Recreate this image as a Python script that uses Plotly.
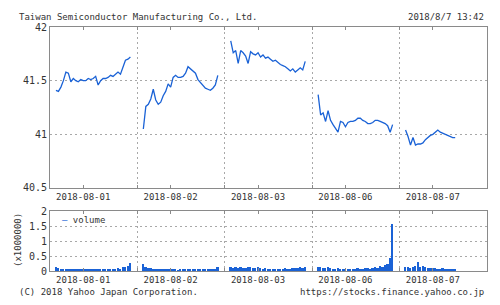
import numpy as np
import plotly.graph_objects as go

# ---------------- data ----------------
dates = ["2018-08-01", "2018-08-02", "2018-08-03", "2018-08-06", "2018-08-07"]

price_d1 = [41.41, 41.40, 41.44, 41.50, 41.58, 41.57, 41.49, 41.52, 41.50, 41.49, 41.51,
            41.50, 41.50, 41.52, 41.51, 41.52, 41.54, 41.46, 41.50, 41.52, 41.52, 41.53,
            41.55, 41.54, 41.56, 41.58, 41.56, 41.62, 41.69, 41.70, 41.72]
price_d2 = [41.05, 41.26, 41.28, 41.33, 41.42, 41.32, 41.28, 41.30, 41.36, 41.40, 41.47,
            41.44, 41.53, 41.55, 41.53, 41.53, 41.54, 41.57, 41.63, 41.61, 41.59, 41.57,
            41.51, 41.48, 41.45, 41.43, 41.42, 41.41, 41.43, 41.46, 41.55]
price_d3 = [41.87, 41.76, 41.78, 41.66, 41.78, 41.76, 41.73, 41.66, 41.77, 41.75, 41.74,
            41.76, 41.72, 41.74, 41.71, 41.72, 41.70, 41.68, 41.69, 41.67, 41.65, 41.64,
            41.63, 41.61, 41.59, 41.61, 41.58, 41.60, 41.62, 41.60, 41.68]
price_d4 = [41.37, 41.18, 41.20, 41.12, 41.22, 41.13, 41.09, 41.05, 41.02, 41.12, 41.11,
            41.07, 41.11, 41.12, 41.12, 41.13, 41.15, 41.15, 41.13, 41.12, 41.10, 41.10,
            41.11, 41.13, 41.13, 41.12, 41.11, 41.10, 41.08, 41.02, 41.09]
price_d5 = [41.04, 40.98, 40.90, 40.97, 40.90, 40.91, 40.91, 40.92, 40.95, 40.97, 40.99,
            41.00, 41.02, 41.04, 41.02, 41.01, 41.00, 40.99, 40.98, 40.97, 40.97]

vol_d1 = [0.12, 0.09, 0.08, 0.07, 0.08, 0.06, 0.07, 0.06, 0.05, 0.06, 0.05, 0.05, 0.06, 0.04,
          0.05, 0.05, 0.06, 0.04, 0.05, 0.06, 0.07, 0.05, 0.06, 0.08, 0.07, 0.09, 0.08, 0.12,
          0.15, 0.18, 0.26]
vol_d2 = [0.22, 0.12, 0.10, 0.09, 0.08, 0.07, 0.06, 0.06, 0.05, 0.04, 0.05, 0.04, 0.05, 0.04,
          0.03, 0.04, 0.05, 0.04, 0.06, 0.05, 0.04, 0.05, 0.06, 0.05, 0.04, 0.07, 0.05, 0.08,
          0.06, 0.05, 0.12]
vol_d3 = [0.15, 0.10, 0.12, 0.09, 0.14, 0.11, 0.10, 0.13, 0.12, 0.09, 0.11, 0.13, 0.10, 0.08,
          0.09, 0.07, 0.08, 0.06, 0.07, 0.08, 0.06, 0.07, 0.09, 0.07, 0.08, 0.10, 0.09, 0.11,
          0.12, 0.10, 0.14]
vol_d4 = [0.14, 0.12, 0.11, 0.10, 0.12, 0.09, 0.08, 0.07, 0.09, 0.08, 0.07, 0.06, 0.07, 0.08,
          0.06, 0.07, 0.09, 0.08, 0.07, 0.10, 0.09, 0.08, 0.11, 0.12, 0.10, 0.18, 0.12, 0.20,
          0.25, 0.43, 1.58]
vol_d5 = [0.15, 0.12, 0.10, 0.13, 0.18, 0.31, 0.14, 0.16, 0.12, 0.10, 0.11, 0.09, 0.10, 0.08,
          0.07, 0.09, 0.06, 0.07, 0.05, 0.06, 0.04]

prices = [price_d1, price_d2, price_d3, price_d4, price_d5]
volumes = [vol_d1, vol_d2, vol_d3, vol_d4, vol_d5]

# ---------------- layout helpers ----------------
SESSION_START = 0.068   # fraction of a day slot where the session begins
SESSION_END = 0.92
FULL_N = 31
step = (SESSION_END - SESSION_START) / (FULL_N - 1)
LABEL_POS = 0.38

BLUE = "#1a62d6"
TXT = "#333333"
GRID = "#a8a8a8"
FRAME = "#8a8a8a"
FONT = "DejaVu Sans Mono"
DOT = "2px,3px"

px, py, vx, vy = [], [], [], []
for d, (p, v) in enumerate(zip(prices, volumes)):
    xs = d + SESSION_START + step * np.arange(len(p))
    px += list(xs) + [None]
    py += list(p) + [None]
    vx += list(d + SESSION_START + step * np.arange(len(v)))
    vy += list(v)

fig = go.Figure()
fig.add_trace(go.Scatter(x=px, y=py, mode="lines", line=dict(color=BLUE, width=1.3),
                         connectgaps=False, showlegend=False, xaxis="x", yaxis="y"))
fig.add_trace(go.Bar(x=vx, y=vy, width=step * 0.7, marker=dict(color=BLUE, line=dict(width=0)),
                     showlegend=False, xaxis="x2", yaxis="y2"))

tickvals = [d + LABEL_POS for d in range(len(dates))]

xcommon = dict(range=[0, 5], tickvals=tickvals, ticktext=dates, ticks="inside", ticklen=3,
               tickcolor=FRAME, showgrid=False, zeroline=False, showline=True, linecolor=FRAME,
               mirror="ticks", tickfont=dict(family=FONT, size=9, color=TXT),
               minor=dict(tick0=0, dtick=1, showgrid=True, gridcolor=GRID, griddash=DOT,
                          gridwidth=1, ticks="inside", ticklen=3, tickcolor=FRAME))

fig.update_layout(
    width=500, height=305,
    margin=dict(l=50, r=13, t=27, b=34),
    paper_bgcolor="white", plot_bgcolor="white",
    font=dict(family=FONT, size=9, color=TXT),
    bargap=0,
    xaxis=dict(domain=[0, 1], anchor="y", **xcommon),
    xaxis2=dict(domain=[0, 1], anchor="y2", **xcommon),
    yaxis=dict(domain=[0.3402, 1], anchor="x", range=[40.5, 42], dtick=0.5, tick0=40.5,
               showgrid=True, gridcolor=GRID, griddash=DOT, zeroline=False, showline=True,
               linecolor=FRAME, mirror=True, ticks="", tickfont=dict(family=FONT, size=10, color=TXT)),
    yaxis2=dict(domain=[0, 0.2459], anchor="x2", range=[0, 2], dtick=0.5, tick0=0,
                showgrid=True, gridcolor=GRID, griddash=DOT, zeroline=False, showline=True,
                linecolor=FRAME, mirror=True, ticks="", tickfont=dict(family=FONT, size=10, color=TXT)),
)

annots = [
    dict(text="Taiwan Semiconductor Manufacturing Co., Ltd.", x=-0.0755, y=1.042, xanchor="left"),
    dict(text="2018/8/7 13:42", x=0.9977, y=1.042, xanchor="right"),
    dict(text="(C) 2018 Yahoo Japan Corporation.", x=-0.0755, y=-0.085, xanchor="left"),
    dict(text="https://stocks.finance.yahoo.co.jp", x=0.9977, y=-0.085, xanchor="right"),
    dict(text="<span style='color:%s'>—</span> volume" % BLUE, x=0.023, y=0.209, xanchor="left"),
    dict(text="(x1000000)", x=-0.0732, y=0.127, xanchor="center", textangle=-90),
]
for a in annots:
    fig.add_annotation(xref="paper", yref="paper", yanchor="middle", showarrow=False,
                       font=dict(family=FONT, size=9, color=TXT), **a)

fig.write_html("out.html")
